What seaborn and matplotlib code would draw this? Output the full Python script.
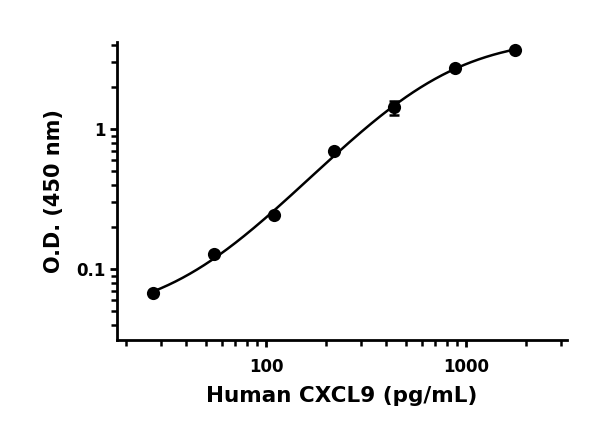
import numpy as np
import pandas as pd
import seaborn as sns
import matplotlib
matplotlib.use("Agg")
import matplotlib.pyplot as plt
from matplotlib.ticker import LogLocator, FixedLocator, NullFormatter

# standard curve readings
conc = [27.4, 54.9, 109.8, 219.5, 439.0, 878.0, 1756.0]
od = [0.068, 0.129, 0.244, 0.695, 1.43, 2.75, 3.67]
od_err = [0.0, 0.0, 0.0, 0.0, 0.17, 0.0, 0.0]

x_ticks = [100, 1000]
x_tick_labels = ["100", "1000"]
y_ticks = [0.1, 1]
y_tick_labels = ["0.1", "1"]

df = pd.DataFrame({"conc": conc, "od": od, "err": od_err})

# 4PL fit: grid over slope/EC50, weighted linear LS for bottom/top
x = df["conc"].to_numpy()
y = df["od"].to_numpy()
best = None
for B in np.linspace(0.6, 2.5, 96):
    for C in np.logspace(1.8, 3.6, 181):
        f = 1.0 / (1.0 + (x / C) ** B)
        M = np.column_stack([f, 1 - f]) / y[:, None]
        coef, *_ = np.linalg.lstsq(M, np.ones_like(y), rcond=None)
        pred = M @ coef
        if np.all(coef > 0):
            err = np.sum((pred - 1) ** 2)
            if best is None or err < best[0]:
                best = (err, B, C, coef[0], coef[1])
_, B, C, A, D = best
xs = np.logspace(np.log10(27.4), np.log10(1756), 300)
fit = pd.DataFrame({"conc": xs, "od": D + (A - D) / (1 + (xs / C) ** B)})

sns.set_style("ticks")
plt.rcParams["font.family"] = ["DejaVu Sans"]
plt.rcParams["font.weight"] = "bold"
plt.rcParams["text.color"] = "black"
plt.rcParams["axes.labelcolor"] = "black"
plt.rcParams["xtick.color"] = "black"
plt.rcParams["ytick.color"] = "black"

fig = plt.figure(figsize=(6, 4.32), dpi=100)
ax = fig.add_axes([0.195, 0.213, 0.75, 0.69])

sns.lineplot(data=fit, x="conc", y="od", color="black", linewidth=1.8, ax=ax)
ax.errorbar(df["conc"], df["od"], yerr=df["err"], fmt="none", ecolor="black",
            elinewidth=1.8, capsize=3.8, capthick=1.8, zorder=6)
sns.scatterplot(data=df, x="conc", y="od", color="black", s=90, edgecolor="black",
                linewidth=0, ax=ax, zorder=5)

ax.set_xscale("log")
ax.set_yscale("log")
ax.set_xlim(18, 3200)
ax.set_ylim(0.0313, 4.2)

ax.xaxis.set_major_locator(FixedLocator(x_ticks))
ax.set_xticklabels(x_tick_labels)
ax.yaxis.set_major_locator(FixedLocator(y_ticks))
ax.set_yticklabels(y_tick_labels)
ax.xaxis.set_minor_locator(LogLocator(base=10, subs=np.arange(2, 10)))
ax.yaxis.set_minor_locator(LogLocator(base=10, subs=np.arange(2, 10)))
ax.xaxis.set_minor_formatter(NullFormatter())
ax.yaxis.set_minor_formatter(NullFormatter())

ax.tick_params(which="major", length=5, width=2.0, labelsize=12, color="black",
               labelcolor="black")
ax.tick_params(axis="x", which="major", pad=8)
ax.tick_params(axis="y", which="major", pad=3)
ax.tick_params(which="minor", length=4, width=1.8, color="black")
for lab in ax.get_xticklabels() + ax.get_yticklabels():
    lab.set_fontweight("bold")

for side in ["top", "right"]:
    ax.spines[side].set_visible(False)
for side in ["left", "bottom"]:
    ax.spines[side].set_linewidth(2.0)
    ax.spines[side].set_color("black")

ax.set_xlabel("Human CXCL9 (pg/mL)", fontsize=15.5, fontweight="bold", labelpad=7)
ax.set_ylabel("O.D. (450 nm)", fontsize=15, fontweight="bold", labelpad=9)

fig.savefig("out.png", dpi=100)
